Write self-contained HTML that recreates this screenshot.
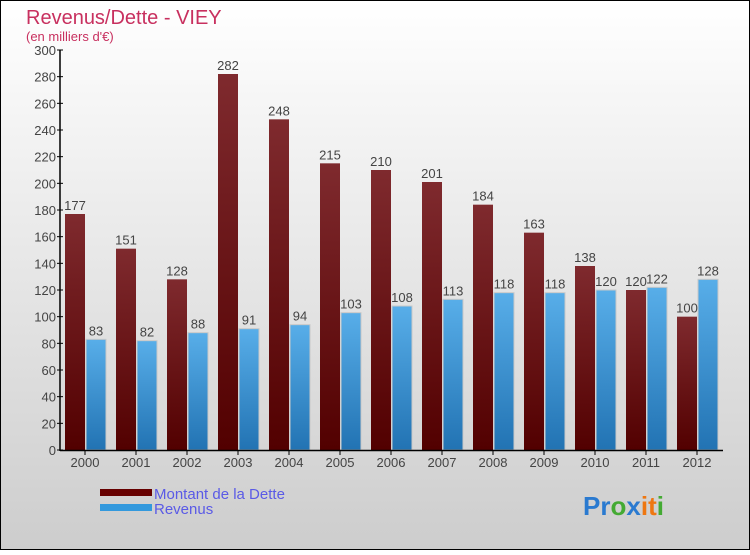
<!DOCTYPE html>
<html><head><meta charset="utf-8"><style>
html,body{margin:0;padding:0}
body{width:750px;height:550px;overflow:hidden;font-family:"Liberation Sans",sans-serif}
</style></head><body>
<svg id="chart" width="750" height="550" xmlns="http://www.w3.org/2000/svg">
<defs>
<linearGradient id="bg" x1="0" y1="0" x2="0" y2="1"><stop offset="0" stop-color="#ffffff"/><stop offset="1" stop-color="#cdcdcd"/></linearGradient>
<linearGradient id="gd" x1="0" y1="0" x2="0" y2="1"><stop offset="0" stop-color="#7f2a2e"/><stop offset="1" stop-color="#520000"/></linearGradient>
<linearGradient id="gr" x1="0" y1="0" x2="0" y2="1"><stop offset="0" stop-color="#58aee9"/><stop offset="1" stop-color="#2273b3"/></linearGradient>
</defs>
<rect x="0.5" y="0.5" width="749" height="549" fill="url(#bg)" stroke="#000"/>
<text x="26" y="24" font-size="20" fill="#c8305f">Revenus/Dette - VIEY</text>
<text x="26" y="41" font-size="13" fill="#c8305f">(en milliers d'€)</text>
<g id="plot"></g>
<g>
<rect x="100" y="489" width="52" height="7" fill="#660000"/>
<text x="154" y="499" font-size="15" fill="#5a5ae6">Montant de la Dette</text>
<rect x="100" y="504" width="52" height="7" fill="#3399dd"/>
<text x="154" y="514" font-size="15" fill="#5a5ae6">Revenus</text>
</g>
<text x="583" y="515" font-size="26" font-weight="bold"><tspan fill="#2a7ad0">Pr</tspan><tspan fill="#44aa33">o</tspan><tspan fill="#2a7ad0">x</tspan><tspan fill="#ee7711">i</tspan><tspan fill="#ee7711">t</tspan><tspan fill="#44aa33">i</tspan></text>
</svg>
<script>
const categories=["2000","2001","2002","2003","2004","2005","2006","2007","2008","2009","2010","2011","2012"];
const dette=[177,151,128,282,248,215,210,201,184,163,138,120,100];
const revenus=[83,82,88,91,94,103,108,113,118,118,120,122,128];
const yTicks=[0,20,40,60,80,100,120,140,160,180,200,220,240,260,280,300];
const NS="http://www.w3.org/2000/svg";
const g=document.getElementById('plot');
const y=v=>450-v*400/300;
const x=i=>85+i*51;
function el(t,a){const e=document.createElementNS(NS,t);for(const k in a)e.setAttribute(k,a[k]);g.appendChild(e);return e;}
yTicks.forEach(t=>{
 const l=el('line',{x1:57,x2:63,y1:y(t),y2:y(t),stroke:'#000'});
 
 
 const tx=el('text',{x:56,y:y(t)+5,'font-size':13,'text-anchor':'end',fill:'#444'});tx.textContent=t;
 
 
});
categories.forEach((c,i)=>{
 const cx=x(i);
 const b1=el('rect',{x:cx-20,y:y(dette[i]),width:20,height:450-y(dette[i]),fill:'url(#gd)'});
 
 
 const b2=el('rect',{x:cx+1,y:y(revenus[i]),width:20,height:450-y(revenus[i]),fill:'url(#gr)',stroke:'#c8c8c8','stroke-width':1});
 
 
 const t1=el('text',{x:cx-10,y:y(dette[i])-4,'font-size':13,'text-anchor':'middle',fill:'#444'});t1.textContent=dette[i];
 
 
 const t2=el('text',{x:cx+11,y:y(revenus[i])-4,'font-size':13,'text-anchor':'middle',fill:'#444'});t2.textContent=revenus[i];
 
 
 const tk=el('line',{x1:cx,x2:cx,y1:450,y2:455,stroke:'#000'});
 
 
 const xl=el('text',{x:cx,y:467,'font-size':13,'text-anchor':'middle',fill:'#444'});xl.textContent=c;
 
 
});
const ya=el('line',{x1:60,x2:60,y1:50,y2:451,stroke:'#000','stroke-width':1.5});


const xa=el('line',{x1:60,x2:723,y1:450.5,y2:450.5,stroke:'#000','stroke-width':1.5});


</script>
</body></html>
